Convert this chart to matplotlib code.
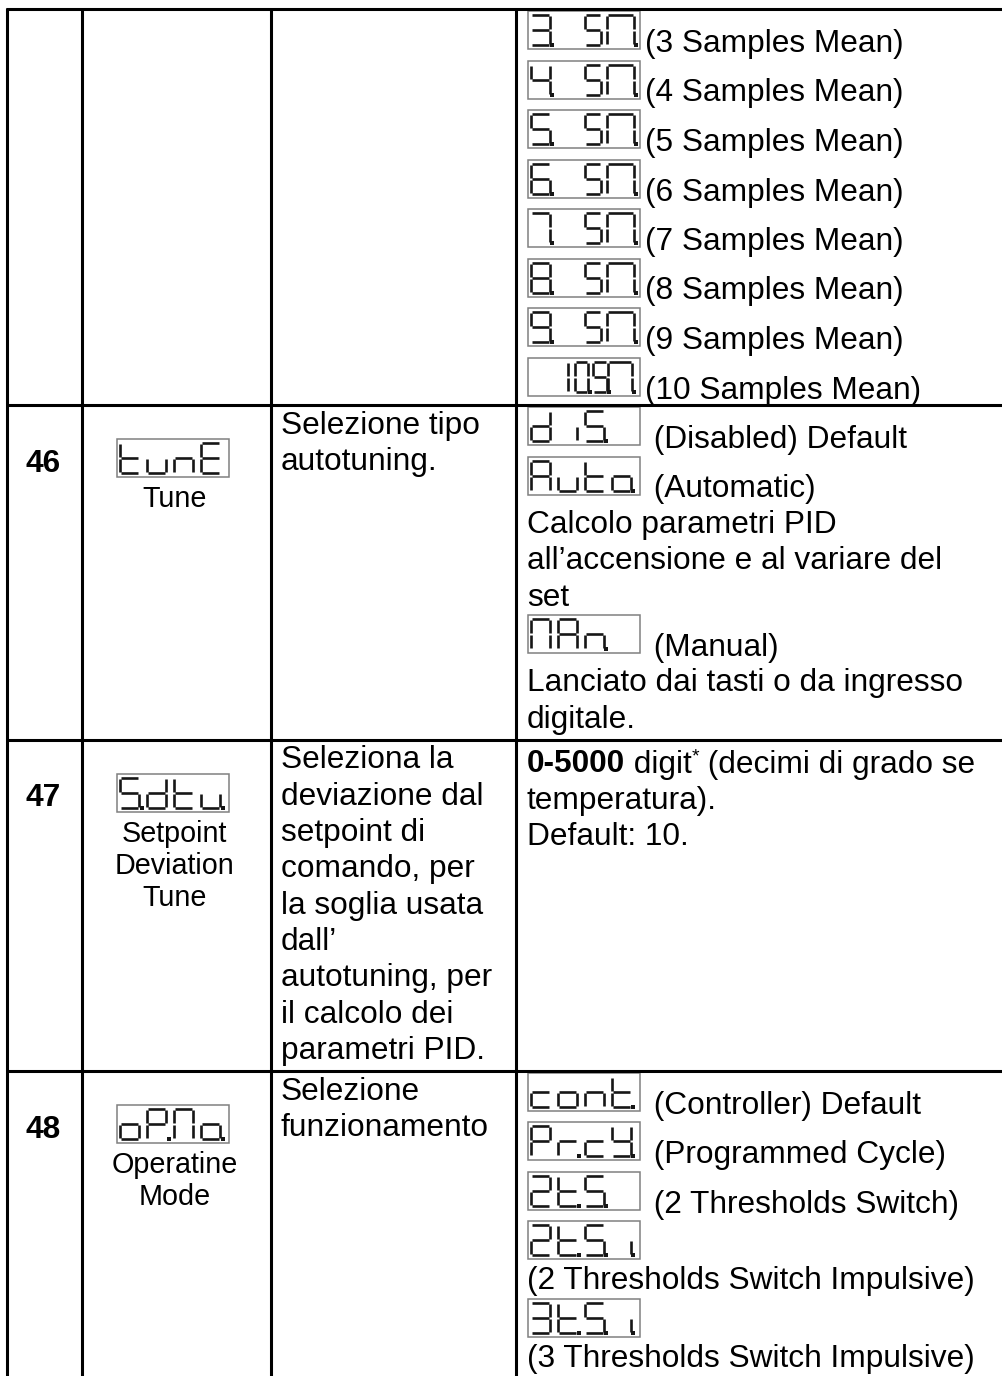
import matplotlib
matplotlib.use("Agg")
import matplotlib.pyplot as plt
from matplotlib.patches import Rectangle

plt.rcParams['font.family'] = ['Liberation Sans', 'DejaVu Sans']

# ---- table content ----
param_nums = ['', '46', '47', '48']
param_codes = ['', 'tunE', 'S.dtu.', 'oP.Mo.']
param_names = [[], ['Tune'], ['Setpoint', 'Deviation', 'Tune'], ['Operatine', 'Mode']]
descriptions = [
    [],
    ['Selezione tipo', 'autotuning.'],
    ['Seleziona la', 'deviazione dal', 'setpoint di', 'comando, per',
     'la soglia usata', 'dall\u2019', 'autotuning, per', 'il calcolo dei',
     'parametri PID.'],
    ['Selezione', 'funzionamento'],
]
# each option line: (display code or None, text)
options = [
    [('3. SW.', '(3 Samples Mean)'), ('4. SW.', '(4 Samples Mean)'),
     ('5. SW.', '(5 Samples Mean)'), ('6. SW.', '(6 Samples Mean)'),
     ('7. SW.', '(7 Samples Mean)'), ('8. SW.', '(8 Samples Mean)'),
     ('9. SW.', '(9 Samples Mean)'), (' 10.S.W.', '(10 Samples Mean)')],
    [('diS.', ' (Disabled) Default'), ('Auto.', ' (Automatic)'),
     (None, 'Calcolo parametri PID'),
     (None, 'all\u2019accensione e al variare del'), (None, 'set'),
     ('MAn.', ' (Manual)'), (None, 'Lanciato dai tasti o da ingresso'),
     (None, 'digitale.')],
    [(None, 'RICH'), (None, 'temperatura).'), (None, 'Default: 10.')],
    [('cont.', ' (Controller) Default'), ('Pr.cY.', ' (Programmed Cycle)'),
     ('2t.S.', ' (2 Thresholds Switch)'), ('2t.S.i.', ''),
     (None, '(2 Thresholds Switch Impulsive)'), ('3t.S.i.', ''),
     (None, '(3 Thresholds Switch Impulsive)')],
]
rich_parts = [('0-5000', 'bold'), (' digit', 'normal'), ('*', 'sup'),
              (' (decimi di grado se', 'normal')]

# seven segment map
SEG = {'0': 'abcdef', '1': 'bc', '2': 'abdeg', '3': 'abcdg', '4': 'bcfg',
       '5': 'acdfg', '6': 'acdefg', '7': 'abc', '8': 'abcdefg', '9': 'abcdfg',
       'A': 'abcefg', 'E': 'adefg', 'P': 'abefg', 'Y': 'bcdfg', 'S': 'acdfg',
       'M': 'abcef', 'W': 'abcef', 'c': 'deg', 'd': 'bcdeg', 'i': 'c',
       'n': 'ceg', 'o': 'cdeg', 'r': 'eg', 't': 'defg', 'u': 'cde', ' ': ''}

# ---- layout ----
W, H = 1002, 1376
col_x = [7, 82, 271, 516]
top_y = 9
FS = 22.75      # main text (pt)
FS_LBL = 20.7   # label under display
TEXT_H = 36.3
ICON_TEXT_H = 49.5
ICON_ONLY_H = 41
BOX_W, BOX_H = 112, 38
SEG_COL = '#161616'

fig = plt.figure(figsize=(W / 100, H / 100), dpi=100)
ax = fig.add_axes([0, 0, 1, 1])
ax.set_xlim(0, W)
ax.set_ylim(H, 0)
ax.axis('off')
renderer = fig.canvas.get_renderer()


def tokens(code):
    out = []
    for ch in code:
        if ch == '.' and out:
            out[-1][1] = True
        else:
            out.append([ch, False])
    return out


def draw_display(x0, y0, code):
    ax.add_patch(Rectangle((x0, y0), BOX_W, BOX_H, fill=False,
                           edgecolor='#808080', lw=1.1))
    toks = tokens(code)
    T, B = y0 + 4, y0 + BOX_H - 4
    M = (T + B) / 2
    for i, (ch, dp) in enumerate(toks):
        if len(toks) == 5:  # squeezed "10.S.n." layout
            L, w = [(0, 0), (33, 7), (47, 13), (65, 14), (80, 24)][i]
            L += x0
        elif ch == 'W':
            L, w = x0 + 4 + i * 27 - 6, 27
        else:
            L, w = x0 + 3 + i * 27, 19
            if i + 1 < len(toks) and toks[i + 1][0] == 'W':
                w = 16
        R = L + w
        g = 1.0
        segs = {'a': ((L + g, T), (R - g, T)), 'b': ((R, T + g), (R, M - g)),
                'c': ((R, M + g), (R, B - g)), 'd': ((L + g, B), (R - g, B)),
                'e': ((L, M + g), (L, B - g)), 'f': ((L, T + g), (L, M - g)),
                'g': ((L + g, M), (R - g, M))}
        for s in SEG.get(ch, ''):
            (xa, ya), (xb, yb) = segs[s]
            ax.plot([xa, xb], [ya, yb], color=SEG_COL, lw=1.9,
                    solid_capstyle='butt')
        if dp:
            ax.plot([R + 2.5], [B], marker='s', ms=3.2, color=SEG_COL, mew=0)


def draw_rich(x, y):
    for txt, kind in rich_parts:
        if kind == 'sup':
            t = ax.text(x, y - 11, txt, fontsize=14, va='baseline', ha='left')
        else:
            t = ax.text(x, y, txt, fontsize=FS, fontweight=kind,
                        va='baseline', ha='left')
        bb = t.get_window_extent(renderer)
        x += bb.width


def col4_height(lines):
    h = 0
    for code, txt in lines:
        if code is None:
            h += TEXT_H
        elif txt:
            h += ICON_TEXT_H
        else:
            h += ICON_ONLY_H
    return h


# rows
y = top_y
row_lines = [top_y]
for r in range(len(options)):
    # column 1: number
    if param_nums[r]:
        ax.text((col_x[0] + col_x[1]) / 2 - 1, y + 67, param_nums[r],
                fontsize=FS, fontweight='bold', ha='center', va='baseline')
    # column 2: display + name
    if param_codes[r]:
        cx = (col_x[1] + col_x[2]) / 2 - 3
        draw_display(cx - BOX_W / 2, y + 34, param_codes[r])
        for k, nm in enumerate(param_names[r]):
            ax.text(cx + 1, y + 34 + BOX_H + 30 + k * 32.5, nm,
                    fontsize=FS_LBL, ha='center', va='baseline')
    # column 3: description
    for k, d in enumerate(descriptions[r]):
        ax.text(col_x[2] + 10, y + 29 + k * TEXT_H, d, fontsize=FS,
                ha='left', va='baseline')
    # column 4: options
    cur = y + (4 if r == 2 else 0)
    for code, txt in options[r]:
        if code is None:
            if txt == 'RICH':
                draw_rich(col_x[3] + 11, cur + 29)
            else:
                ax.text(col_x[3] + 11, cur + 29, txt, fontsize=FS,
                        ha='left', va='baseline')
            cur += TEXT_H
        else:
            draw_display(col_x[3] + 12, cur + 2, code)
            if txt:
                ax.text(col_x[3] + 12 + BOX_W + 5, cur + 43, txt,
                        fontsize=FS, ha='left', va='baseline')
                cur += ICON_TEXT_H
            else:
                cur += ICON_ONLY_H
    h = max(col4_height(options[r]) + (4 if r == 2 else 0),
            len(descriptions[r]) * TEXT_H)
    y = y + h + (0 if r == 0 else 4.5)
    row_lines.append(y)

# grid lines
for yy in row_lines[:-1]:
    ax.plot([col_x[0] - 1, W], [yy, yy], color='black', lw=2.2,
            solid_capstyle='butt')
for xx in col_x:
    ax.plot([xx, xx], [top_y - 1, H], color='black', lw=2.2,
            solid_capstyle='butt')

fig.savefig('out.png', dpi=100)
